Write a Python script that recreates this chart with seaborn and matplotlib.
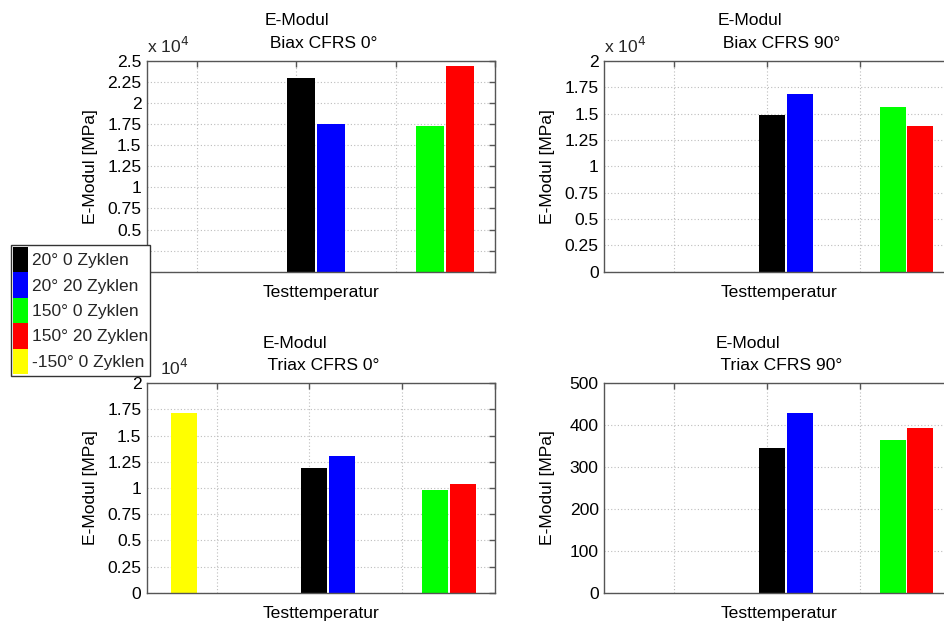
import numpy as np
import pandas as pd
import matplotlib
matplotlib.use("Agg")
import matplotlib.pyplot as plt
import matplotlib.patches as mpatches
from matplotlib.ticker import FuncFormatter, MultipleLocator
import seaborn as sns

# ---------------- data ----------------
series = ["20° 0 Zyklen", "20° 20 Zyklen", "150° 0 Zyklen", "150° 20 Zyklen", "-150° 0 Zyklen"]
panels = ["Biax CFRS 0°", "Biax CFRS 90°", "Triax CFRS 0°", "Triax CFRS 90°"]
biax_0 = [22940, 17580, 17340, 24370, np.nan]
biax_90 = [14910, 16850, 15670, 13870, np.nan]
triax_0 = [11880, 13090, 9780, 10350, 17160]
triax_90 = [345, 429, 364, 394, np.nan]
main_title = "E-Modul"
ylabel = "E-Modul [MPa]"
xlabel = "Testtemperatur"

# ---------------- layout / style ----------------
colors = ["#000000", "#0000ff", "#00ff00", "#ff0000", "#ffff00"]
bar_pos = [2.05, 2.35, 3.35, 3.65, 0.65]
bar_w = 0.28

sns.set_theme(style="white")
plt.rcParams["font.family"] = ["Liberation Sans", "DejaVu Sans"]
FS = 12.6

W, H = 945, 625
fig = plt.figure(figsize=(W / 100, H / 100), dpi=100)

def px_rect(l, t, w, h):
    return [l / W, 1 - (t + h) / H, w / W, h / H]

rects = [px_rect(147, 61, 348, 210.7), px_rect(604.3, 61, 348.7, 210.7),
         px_rect(147, 383.3, 348, 209.4), px_rect(604.3, 383.3, 348.7, 209.4)]
xlims = [(0.5, 4.0), (0.25, 4.0), (0.25, 4.0), (0.25, 4.0)]
ylims = [(0, 25000), (0, 20000), (0, 20000), (0, 500)]
ysteps = [2500, 2500, 2500, 100]
scaled = [True, True, True, False]
mult_txt = [r"x 10$^{4}$", r"x 10$^{4}$", r"10$^{4}$", None]

rows = []
for p, vals in zip(panels, [biax_0, biax_90, triax_0, triax_90]):
    for s, x, v in zip(series, bar_pos, vals):
        rows.append({"panel": p, "series": s, "pos": x, "value": v})
df = pd.DataFrame(rows)

pal = dict(zip(series, colors))
spine_c = "#555555"

for i, p in enumerate(panels):
    ax = fig.add_axes(rects[i])
    sub = df[df["panel"] == p].dropna()
    sns.barplot(data=sub, x="pos", y="value", hue="series", hue_order=series,
                palette=pal, native_scale=True, dodge=False, width=bar_w / 0.3,
                saturation=1, errorbar=None, legend=False, ax=ax, linewidth=0)
    ax.set_xlim(*xlims[i])
    ax.set_ylim(*ylims[i])
    ax.xaxis.set_major_locator(MultipleLocator(1))
    ax.yaxis.set_major_locator(MultipleLocator(ysteps[i]))
    if scaled[i]:
        ax.yaxis.set_major_formatter(FuncFormatter(lambda v, _: f"{v / 1e4:g}"))
    else:
        ax.yaxis.set_major_formatter(FuncFormatter(lambda v, _: f"{v:g}"))
    ax.set_axisbelow(True)
    ax.grid(True, linestyle=(0, (1, 2)), color="#bdbdbd", linewidth=0.8)
    ax.tick_params(direction="in", top=True, right=True, length=4, width=1,
                   color=spine_c, labelbottom=False, labelsize=FS, pad=4,
                   labelcolor="black")
    for sp in ax.spines.values():
        sp.set_visible(True)
        sp.set_color(spine_c)
        sp.set_linewidth(1.0)
    ax.set_xlabel(xlabel, fontsize=FS, color="black", va="top")
    ax.set_ylabel(ylabel, fontsize=FS, color="black")
    w_px = rects[i][2] * W
    h_px = rects[i][3] * H
    ax.xaxis.set_label_coords(0.5, -13 / h_px)
    ax.yaxis.set_label_coords(-49 / w_px, 0.5)
    ax.set_title(main_title + "\n " + p, fontsize=FS, ma="left", pad=9.5,
                 linespacing=1.62, color="black")
    if mult_txt[i]:
        dx = 13 if mult_txt[i].startswith("10") else 0
        ax.text(dx / w_px, 1 + 8 / h_px, mult_txt[i], transform=ax.transAxes,
                fontsize=FS, ha="left", va="baseline")

handles = [mpatches.Patch(facecolor=c, edgecolor="none", linewidth=0) for c in colors]
leg = fig.legend(handles, series, loc="upper left",
                 bbox_to_anchor=(11 / W, 1 - 245 / H), borderaxespad=0,
                 fontsize=12.5, handlelength=0.87, handleheight=1.88,
                 handletextpad=0.25, labelspacing=0, borderpad=0.1,
                 fancybox=False, framealpha=1, edgecolor="#333333")
leg.get_frame().set_linewidth(1.0)

fig.savefig("out.png", dpi=100, facecolor="white")
